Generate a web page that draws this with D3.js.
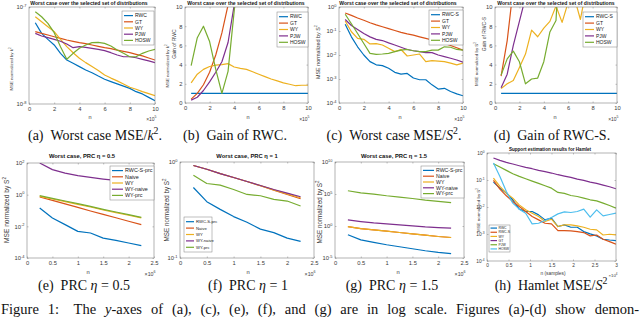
<!DOCTYPE html>
<html><head><meta charset="utf-8">
<script src="https://cdn.jsdelivr.net/npm/d3@7"></script>
<style>body{margin:0;background:#fff}svg{display:block}</style>
</head><body><svg id="c" width="640" height="317"></svg>
<script>
// ---------------- DATA ----------------
const xTop = [0.5,1,1.5,2,2.5,3,3.5,4,4.5,5,5.5,6,6.5,7,7.5,8,8.5,9,9.5,10];
const xTopTicks = [0,2,4,6,8,10];
const legendTop = ["RWC","GT","WY","PJW","HOSW"];
const legendTopS = ["RWC-S","GT","WY","PJW","HOSW"];
// (a) worst case MSE / k^2
const aRWC  = [6.89e-8,5.35e-8,4.64e-8,4.06e-8,3.33e-8,2.84e-8,2.63e-8,2.43e-8,2.24e-8,2.10e-8,1.94e-8,1.80e-8,1.70e-8,1.61e-8,1.53e-8,1.45e-8,1.34e-8,1.27e-8,1.17e-8,1.08e-8];
const aGT   = [5.57e-8,5.35e-8,5.14e-8,4.94e-8,4.75e-8,4.57e-8,4.43e-8,4.29e-8,4.19e-8,4.06e-8,3.93e-8,3.81e-8,3.72e-8,3.60e-8,3.49e-8,3.38e-8,3.25e-8,3.13e-8,2.98e-8,2.84e-8];
const aWY   = [7.94e-8,7.06e-8,6.27e-8,5.57e-8,4.64e-8,3.90e-8,3.38e-8,2.96e-8,2.67e-8,2.43e-8,2.21e-8,1.99e-8,1.85e-8,1.73e-8,1.61e-8,1.49e-8,1.42e-8,1.34e-8,1.28e-8,1.22e-8];
const aPJW  = [5.35e-8,5.02e-8,4.83e-8,4.64e-8,4.43e-8,4.15e-8,3.81e-8,3.90e-8,3.84e-8,3.75e-8,3.66e-8,3.55e-8,3.38e-8,3.20e-8,3.07e-8,3.07e-8,3.00e-8,2.89e-8,2.78e-8,2.67e-8];
const aHOSW = [8.95e-8,7.94e-8,6.79e-8,5.44e-8,3.90e-8,2.89e-8,3.33e-8,3.75e-8,4.06e-8,4.29e-8,4.32e-8,4.22e-8,3.96e-8,3.60e-8,3.33e-8,3.07e-8,3.07e-8,3.33e-8,3.52e-8,3.66e-8];
const aYTicks = [1e-8,1e-7];
// (b) gain of RWC
const bRWC  = [1,1,1,1,1,1,1,1,1,1,1,1,1,1,1,1,1,1,1,1];
const bGT   = [0.4,1.0,1.9,3.2,5.0,7.3,10.2,14];
const bWY   = [2.1,3.0,3.5,3.8,3.95,4.0,4.1,3.75,3.6,3.5,3.25,3.0,2.75,2.5,2.3,2.1,1.95,1.8,1.85,1.85];
const bPJW  = [0.3,0.6,1.3,2.2,3.2,4.3,6.3,10.2,14];
const bHOSW = [3.9,6.8,8.0,6.4,3.5,1.0,3.3,9.6,16];
const gainTicks = [0,2,4,6,8,10];
// (c) worst case MSE / S^2
const cRWCS = [0.19,0.057,0.022,0.010,0.0053,0.0039,0.0036,0.0028,0.0019,0.0016,0.0017,0.0011,0.00093,0.00093,0.00057,0.00038,0.00041,0.00030,0.00024,0.0002];
const cGT   = [0.56,0.45,0.35,0.28,0.22,0.18,0.15,0.126,0.105,0.088,0.076,0.067,0.057,0.049,0.042,0.036,0.030,0.025,0.020,0.016];
const cWY   = [0.26,0.093,0.049,0.045,0.029,0.030,0.026,0.019,0.0138,0.017,0.0091,0.010,0.011,0.0053,0.0058,0.0056,0.0053,0.0046,0.0039,0.0046];
const cPJW  = [0.30,0.17,0.115,0.079,0.057,0.045,0.040,0.032,0.026,0.021,0.017,0.015,0.0138,0.0125,0.0125,0.010,0.0085,0.0073,0.0062,0.0050];
const cHOSW = [0.50,0.20,0.079,0.030,0.0117,0.0107,0.011,0.0117,0.0138,0.016,0.017,0.015,0.0138,0.0138,0.016,0.016,0.022,0.021,0.017,0.016];
const cYTicks = [1e-4,1e-3,1e-2,1e-1,1e0];
// (d) gain of RWC-S
const dRWCS = [1,1,1,1,1,1,1,1,1,1,1,1,1,1,1,1,1,1,1,1];
const dGT   = [2.8,6.5,12];
const dWY   = [1.5,2.0,2.35,3.7,5.1,7.6,6.9,7.8,8.5,10.1,8.4,10.5,11,8.7,12];
const dPJW  = [1.6,3.0,6.0,8.5,11];
const dHOSW = [2.9,4.6,5.4,4.3,2.0,2.5,2.6,4.3,7.4,8.6,20];
// PRC panels
const xPRC = [0.25,0.5,0.75,1,1.25,1.5,1.75,2,2.25];
const xPRCTicks = [0,0.5,1,1.5,2,2.5];
const legendPRC = ["RWC-S-prc","Naive","WY","WY-naive","WY-prc"];
// (e) eta = 0.5
const eRWCSprc = [0.144,0.034,0.0128,0.0048,0.0038,0.0018,0.0013,0.00089,0.0006];
const eNaive   = [0.71,0.44,0.26,0.158,0.093,0.057,0.035,0.021,0.0129];
const eWY      = [0.785,0.53,0.36,0.245,0.166,0.108,0.073,0.050,0.034];
const eWYnaive = [100,38,23,16,12.4,9.7,7.9,6.9,6.0];
const eWYprc   = [0.865,0.59,0.40,0.27,0.183,0.119,0.080,0.055,0.037];
const eYTicks = [1e-4,1e-2,1e0,1e2];
// (f) eta = 1
const fRWCSprc = [0.542,0.386,0.321,0.270,0.236,0.20,0.184,0.161,0.149];
const fNaive   = [0.92,0.84,0.757,0.689,0.626,0.565,0.509,0.459,0.414];
const fWY      = [0.92,0.84,0.757,0.689,0.626,0.567,0.513,0.466,0.424];
const fWYnaive = [0.92,0.84,0.757,0.689,0.626,0.569,0.517,0.474,0.435];
const fWYprc   = [0.728,0.597,0.574,0.517,0.459,0.445,0.408,0.392,0.348];
const fYTicks = [1e-1,1e0];
// (g) eta = 1.5
const gRWCSprc = [0.042,0.0069,0.0027,0.00117,5.7e-4,2.8e-4,1.37e-4,7.6e-5,4.7e-5];
const gNaive   = [0.82,0.40,0.25,0.154,0.096,0.059,0.037,0.023,0.016];
const gWY      = [0.82,0.40,0.25,0.154,0.096,0.059,0.037,0.023,0.016];
const gWYnaive = [8.8,4.9,3.0,2.1,1.5,1.04,0.72,0.57,0.45];
const gWYprc   = [3.2e5,1.5e5,9.6e4,5.3e4,3.3e4,2.0e4,1.1e4,6.9e3,4.4e3];
const gYTicks = [1e-5,1e0,1e5,1e10];
// (h) Hamlet
const xHam = [0.15,0.3,0.45,0.6,0.75,0.9,1.05,1.2,1.35,1.5,1.65,1.8,1.95,2.1,2.25,2.4,2.55,2.7,2.85,3.0];
const xHamTicks = [0,0.5,1,1.5,2,2.5,3];
const legendHam = ["RWC","RWC-S","WY","GT","PJW","HOSW"];
const hRWC  = [0.0837,0.050,0.0327,0.0185,0.0083,0.0068,0.0068,0.00512,0.00334,0.00385,0.00189,0.00217,0.00178,0.00178,0.00123,0.00101,0.00085,0.00064,0.0006,0.00057];
const hRWCS = [0.0966,0.046,0.026,0.016,0.0104,0.0068,0.00444,0.00334,0.0025,0.00237,0.00134,0.00134,0.0013,0.00123,0.00113,0.00085,0.00092,0.00064,0.00052,0.00042];
const hWY   = [0.118,0.0578,0.0327,0.0213,0.012,0.00785,0.0059,0.00444,0.00289,0.00353,0.00189,0.00217,0.00217,0.002,0.00178,0.0015,0.00142,0.00092,0.00098,0.00092];
const hGT   = [0.652,0.534,0.45,0.39,0.338,0.293,0.262,0.227,0.203,0.181,0.157,0.140,0.125,0.108,0.0966,0.0837,0.0746,0.0647,0.0561,0.0473];
const hPJW  = [0.40,0.302,0.227,0.171,0.136,0.111,0.091,0.0746,0.0611,0.050,0.0346,0.0318,0.0267,0.0245,0.0213,0.0185,0.0169,0.0139,0.0114,0.0091];
const hHOSW = [0.425,0.136,0.0377,0.0139,0.0083,0.0059,0.00237,0.0025,0.00316,0.0041,0.00557,0.0066,0.00625,0.0068,0.0083,0.0042,0.00785,0.0047,0.00526,0.0059];
const hYTicks = [1e-4,1e-3,1e-2,1e-1,1e0];

// ---------------- DRAWING ----------------
const svg = d3.select('#c');
svg.append('rect').attr('width',640).attr('height',317).attr('fill','#fff');
const COL = ['#0072BD','#D95319','#EDB120','#7E2F8E','#77AC30','#4DBEEE'];
const SANS = 'Liberation Sans, Arial, Helvetica, sans-serif';
const SERIF = 'Liberation Serif, Times New Roman, serif';
const AX = '#808080';
const TXT = '#3a3a3a';
let clipN = 0;

function rich(sel, parts, fs){
  let shifted = 0;
  parts.forEach(p=>{
    const ts = sel.append('tspan').text(p.t);
    if(p.i) ts.attr('font-style','italic');
    if(p.sup){ ts.attr('dy', -fs*0.42).attr('font-size', fs*0.7); shifted = fs*0.42; }
    else if(shifted){ ts.attr('dy', shifted); shifted = 0; }
  });
}

function panel(p){
  const g = svg.append('g');
  const x = d3.scaleLinear().domain(p.xDomain).range([p.l, p.r]);
  const y = (p.log ? d3.scaleLog() : d3.scaleLinear()).domain(p.yDomain).range([p.b, p.t]);
  const fs = p.tfs || 5.8;
  const xa = g.append('g').attr('transform',`translate(0,${p.b})`)
    .call(d3.axisBottom(x).tickValues(p.xTicks).tickSizeInner(-1.5).tickSizeOuter(0).tickPadding(2.5).tickFormat(d=>String(d)));
  const ya = g.append('g').attr('transform',`translate(${p.l},0)`)
    .call(d3.axisLeft(y).tickValues(p.yTicks).tickSizeInner(-1.5).tickSizeOuter(0).tickPadding(2.5).tickFormat(d=>String(d)));
  const xt = g.append('g').attr('transform',`translate(0,${p.t})`)
    .call(d3.axisTop(x).tickValues(p.xTicks).tickSizeInner(-1.5).tickSizeOuter(0).tickFormat(''));
  const yr = g.append('g').attr('transform',`translate(${p.r},0)`)
    .call(d3.axisRight(y).tickValues(p.yTicks).tickSizeInner(-1.5).tickSizeOuter(0).tickFormat(''));
  [xa,ya,xt,yr].forEach(a=>{
    a.select('.domain').remove();
    a.selectAll('line').attr('stroke',AX).attr('stroke-width',0.5);
    a.selectAll('text').attr('font-size',fs).attr('font-family',SANS).attr('fill',TXT);
  });
  if(p.log){
    ya.selectAll('.tick text').each(function(d){
      const t = d3.select(this); const e = Math.round(Math.log10(d));
      t.text(''); t.append('tspan').text('10');
      t.append('tspan').attr('dy',-fs*0.45).attr('font-size',fs*0.68).text(e);
    });
  }
  // lines
  const cid = 'clip'+(clipN++);
  svg.append('clipPath').attr('id',cid).append('rect')
    .attr('x',p.l).attr('y',p.t).attr('width',p.r-p.l).attr('height',p.b-p.t);
  const lg = g.append('g').attr('clip-path',`url(#${cid})`);
  const line = d3.line().x((d,i)=>x(p.xs[i])).y(d=>y(d));
  p.series.forEach(s=>{
    lg.append('path').datum(s.values).attr('fill','none').attr('stroke',s.color)
      .attr('stroke-width',p.lw||1.2).attr('stroke-linejoin','round').attr('d',line);
  });
  // box
  g.append('rect').attr('x',p.l).attr('y',p.t).attr('width',p.r-p.l).attr('height',p.b-p.t)
    .attr('fill','none').attr('stroke',AX).attr('stroke-width',0.6);
  // legend
  const L = p.legend;
  g.append('rect').attr('x',L.x).attr('y',L.y).attr('width',L.w).attr('height',L.h)
    .attr('fill','#fff').attr('stroke',AX).attr('stroke-width',0.5);
  const step = (L.h - 2*L.pad)/p.series.length;
  p.series.forEach((s,i)=>{
    const cy = L.y + L.pad + step*(i+0.5);
    g.append('line').attr('x1',L.x+L.l0).attr('x2',L.x+L.l1).attr('y1',cy).attr('y2',cy)
      .attr('stroke',s.color).attr('stroke-width',1.2);
    g.append('text').attr('x',L.x+L.tx).attr('y',cy).attr('dy','0.35em')
      .attr('font-size',L.fs).attr('font-family',SANS).attr('fill','#222').text(s.name);
  });
  // title
  if(p.title){
    const tt = g.append('text').attr('x',p.title.x).attr('y',p.title.y).attr('text-anchor','middle')
      .attr('font-size',p.title.fs).attr('font-weight','bold').attr('font-family',SANS).attr('fill','#111');
    if(p.title.clip){
      const tc = 'tclip'+(clipN++);
      svg.append('clipPath').attr('id',tc).append('rect').attr('x',p.title.clip[0]).attr('y',0).attr('width',p.title.clip[1]-p.title.clip[0]).attr('height',317);
      tt.attr('clip-path',`url(#${tc})`);
    }
    rich(tt, p.title.parts, p.title.fs);
  }
  // y labels
  p.ylabels.forEach(yl=>{
    const t = g.append('text').attr('transform',`translate(${yl.x},${yl.y}) rotate(-90)`)
      .attr('text-anchor','middle').attr('font-size',yl.fs).attr('font-family',SANS).attr('fill',TXT);
    rich(t, yl.parts, yl.fs);
  });
  // x label
  g.append('text').attr('x',p.xl.x).attr('y',p.xl.y).attr('text-anchor','middle')
    .attr('font-size',p.xl.fs).attr('font-family',SANS).attr('fill',TXT).text(p.xl.t);
  const ex = g.append('text').attr('x',p.r+1.5).attr('y',p.xl.y+1.5).attr('text-anchor','end')
    .attr('font-size',p.xl.fs*0.9).attr('font-family',SANS).attr('fill',TXT);
  rich(ex, [{t:'\u00d710'},{t:String(p.xExp),sup:1}], p.xl.fs*0.9);
}

function ser(names, arrs, cols){ return names.map((n,i)=>({name:n, values:arrs[i], color:cols[i]})); }
const topTitle = [{t:'Worst case over the selected set of distributions'}];
const mseK = [{t:'MSE normalized by '},{t:'k'},{t:'2',sup:1}];
const mseS = [{t:'MSE normalized by '},{t:'S'},{t:'2',sup:1}];
const topCols = [COL[0],COL[1],COL[2],COL[3],COL[4]];

// (a)
panel({l:29,r:155,t:7,b:104,xDomain:[0,10],xTicks:xTopTicks,xs:xTop,log:true,yDomain:[1e-8,1e-7],yTicks:aYTicks,
  series:ser(legendTop,[aRWC,aGT,aWY,aPJW,aHOSW],topCols),
  legend:{x:122,y:11,w:32,h:34,pad:1.5,l0:2,l1:11,tx:13,fs:5},
  title:{x:89,y:5,fs:5.1,parts:topTitle},
  ylabels:[{x:13,y:69,fs:4.4,parts:mseK}],
  xl:{x:90,y:119,fs:5.5,t:'n'},xExp:5});
// (b)
panel({l:185,r:308,t:7,b:103,xDomain:[0,10],xTicks:xTopTicks,xs:xTop,log:false,yDomain:[0,10],yTicks:gainTicks,
  series:ser(legendTop,[bRWC,bGT,bWY,bPJW,bHOSW],topCols),
  legend:{x:277,y:12,w:31,h:35,pad:1.5,l0:2,l1:11,tx:13,fs:5},
  title:{x:246,y:5,fs:5.1,parts:topTitle,clip:[160,311]},
  ylabels:[{x:168.5,y:66,fs:4.4,parts:mseK},{x:176,y:44,fs:5,parts:[{t:'Gain of RWC'}]}],
  xl:{x:248,y:119,fs:5.5,t:'n'},xExp:5});
// (c)
panel({l:339,r:463,t:7,b:103,xDomain:[0,10],xTicks:xTopTicks,xs:xTop,log:true,yDomain:[1e-4,1e0],yTicks:cYTicks,
  series:ser(legendTopS,[cRWCS,cGT,cWY,cPJW,cHOSW],topCols),
  legend:{x:429,y:10,w:34,h:35,pad:1.5,l0:2,l1:11,tx:13,fs:5},
  title:{x:398,y:5,fs:5.1,parts:topTitle},
  ylabels:[{x:319.5,y:52,fs:5.4,parts:mseS}],
  xl:{x:400,y:119,fs:5.5,t:'n'},xExp:5});
// (d)
panel({l:495,r:617,t:7,b:103,xDomain:[0,10],xTicks:xTopTicks,xs:xTop,log:false,yDomain:[0,10],yTicks:gainTicks,
  series:ser(legendTopS,[dRWCS,dGT,dWY,dPJW,dHOSW],topCols),
  legend:{x:583,y:12,w:34,h:35,pad:1.5,l0:2,l1:11,tx:13,fs:5},
  title:{x:556,y:5,fs:5.1,parts:topTitle},
  ylabels:[{x:477.5,y:64,fs:4.4,parts:mseS},{x:485.5,y:34,fs:5,parts:[{t:'Gain of RWC-S'}]}],
  xl:{x:555,y:119,fs:5.5,t:'n'},xExp:5});

const prcCols = [COL[0],COL[1],COL[2],COL[3],COL[4]];
// (e)
panel({l:27,r:154,t:163,b:258,xDomain:[0,2.5],xTicks:xPRCTicks,xs:xPRC,log:true,yDomain:[1e-4,1e2],yTicks:eYTicks,
  series:ser(legendPRC,[eRWCSprc,eNaive,eWY,eWYnaive,eWYprc],prcCols),
  legend:{x:110,y:166,w:44,h:34,pad:1.5,l0:2,l1:13,tx:15,fs:5.4},
  title:{x:82,y:158,fs:5.8,parts:[{t:'Worst case, PRC '},{t:'\u03b7'},{t:' = 0.5'}]},
  ylabels:[{x:9,y:210,fs:6.6,parts:mseS}],
  xl:{x:88,y:274,fs:5.8,t:'n'},xExp:6});
// (f)
panel({l:180,r:314,t:162,b:258,xDomain:[0,2.5],xTicks:xPRCTicks,xs:xPRC,log:true,yDomain:[1e-1,1e0],yTicks:fYTicks,
  series:ser(legendPRC,[fRWCSprc,fNaive,fWY,fWYnaive,fWYprc],prcCols),
  legend:{x:184,y:217,w:28,h:35,pad:1.5,l0:2,l1:10,tx:12,fs:4.2},
  title:{x:247,y:158,fs:5.8,parts:[{t:'Worst case, PRC '},{t:'\u03b7'},{t:' = 1'}]},
  ylabels:[{x:168.5,y:210,fs:6.3,parts:mseS}],
  xl:{x:248,y:274,fs:5.8,t:'n'},xExp:6});
// (g)
panel({l:335,r:464,t:162,b:258,xDomain:[0,2.5],xTicks:xPRCTicks,xs:xPRC,log:true,yDomain:[1e-5,1e10],yTicks:gYTicks,
  series:ser(legendPRC,[gRWCSprc,gNaive,gWY,gWYnaive,gWYprc],prcCols),
  legend:{x:421,y:166,w:43,h:32,pad:1.5,l0:2,l1:13,tx:15,fs:5.2},
  title:{x:394,y:158,fs:5.8,parts:[{t:'Worst case, PRC '},{t:'\u03b7'},{t:' = 1.5'}]},
  ylabels:[{x:321.5,y:212,fs:6.3,parts:mseS}],
  xl:{x:398,y:274,fs:5.8,t:'n'},xExp:6});
// (h)
panel({l:487,r:616,t:153,b:261,xDomain:[0,3],xTicks:xHamTicks,xs:xHam,log:true,yDomain:[1e-4,1e0],yTicks:hYTicks,tfs:4.8,
  series:ser(legendHam,[hRWC,hRWCS,hWY,hGT,hPJW,hHOSW],[COL[0],COL[1],COL[2],COL[3],COL[4],COL[5]]),
  legend:{x:489,y:225,w:21,h:27,pad:1,l0:1.5,l1:8,tx:9.5,fs:3.4},
  title:{x:550,y:151,fs:4.6,parts:[{t:'Support estimation results for Hamlet'}]},
  ylabels:[{x:479.5,y:210,fs:4.4,parts:mseS}],
  xl:{x:553,y:275,fs:4.8,t:'n (samples)'},xExp:4});

// captions
function caption(xc, yb, parts){
  const t = svg.append('text').attr('x',xc).attr('y',yb).attr('text-anchor','middle')
    .attr('font-size',14).attr('font-family',SERIF).attr('fill','#111');
  rich(t, parts, 14);
}
caption(95,140,[{t:'(a)\u2002Worst case MSE/'},{t:'k',i:1},{t:'2',sup:1},{t:'.'}]);
caption(235,140,[{t:'(b)\u2002Gain of RWC.'}]);
caption(394,140,[{t:'(c)\u2002Worst case MSE/'},{t:'S',i:1},{t:'2',sup:1},{t:'.'}]);
caption(552,140,[{t:'(d)\u2002Gain of RWC-S.'}]);
caption(84,290,[{t:'(e)\u2002PRC '},{t:'\u03b7',i:1},{t:' = 0.5'}]);
caption(248,290,[{t:'(f)\u2002PRC '},{t:'\u03b7',i:1},{t:' = 1'}]);
caption(392,290,[{t:'(g)\u2002PRC '},{t:'\u03b7',i:1},{t:' = 1.5'}]);
caption(551,290,[{t:'(h)\u2002Hamlet MSE/'},{t:'S',i:1},{t:'2',sup:1}]);

// figure caption line, justified to the page width
const figParts = [{t:'Figure 1:\u2003The '},{t:'y',i:1},{t:'-axes of (a), (c), (e), (f), and (g) are in log scale. Figures (a)-(d) show demon-'}];
const fig = svg.append('text').attr('x',1).attr('y',314).attr('font-size',14.5).attr('font-family',SERIF).attr('fill','#111');
rich(fig, figParts, 14.5);
const natural = fig.node().getComputedTextLength();
const nSpaces = figParts.map(p=>p.t).join('').split(' ').length - 1;
if(natural < 638) fig.attr('word-spacing', (638 - natural)/nSpaces);
else fig.attr('textLength',638).attr('lengthAdjust','spacingAndGlyphs');
</script></body></html>
